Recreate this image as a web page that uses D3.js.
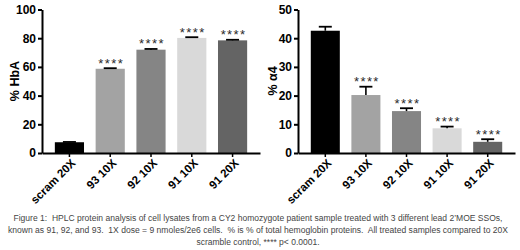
<!DOCTYPE html>
<html>
<head>
<meta charset="utf-8">
<script src="https://cdn.jsdelivr.net/npm/d3@7"></script>
<style>
  body { margin: 0; background: #fff; }
  svg text { font-family: "Liberation Sans", Arial, sans-serif; }
  .caption { white-space: pre; }
</style>
</head>
<body>
<div id="chart-area"></div>
<script>
// samples, shared by both panels
var samples = ["scram 20X", "93 10X", "92 10X", "91 10X", "91 20X"]
var barColors = ["#000000", "#a3a3a3", "#858585", "#d9d9d9", "#646464"]

// left panel: % HbA
var hbaValues = [7.5, 58.7, 72.0, 80.2, 78.5]
var hbaErrors = [0.2, 0.4, 0.5, 0.5, 0.4]
var hbaStars = ["", "****", "****", "****", "****"]
var hbaTicks = [0, 20, 40, 60, 80, 100]

// right panel: % alpha4
var a4Values = [42.6, 20.2, 14.6, 8.6, 3.9]
var a4Errors = [1.4, 2.9, 1.0, 0.6, 0.9]
var a4Stars = ["", "****", "****", "****", "****"]
var a4Ticks = [0, 10, 20, 30, 40, 50]

var captionLines = [
  "Figure 1:  HPLC protein analysis of cell lysates from a CY2 homozygote patient sample treated with 3 different lead 2\u2019MOE SSOs,",
  "known as 91, 92, and 93.  1X dose = 9 nmoles/2e6 cells.  % is % of total hemoglobin proteins.  All treated samples compared to 20X",
  "scramble control, **** p< 0.0001."
]
var captionWidths = [489, 500, null]

var svg = d3.select("#chart-area").append("svg")
    .attr("width", 520)
    .attr("height", 250)

function drawPanel(opts) {
  var x = d3.scaleBand()
    .domain(samples)
    .range([opts.left, opts.right])
    .paddingInner(0.285)
    .paddingOuter(0.315)

  var y = d3.scaleLinear()
    .domain([0, opts.max])
    .range([153, 9.5])

  var g = svg.append("g")

  // bars
  g.selectAll("rect.bar")
    .data(opts.values)
    .enter().append("rect")
      .attr("class", "bar")
      .attr("x", function(d, i) { return x(samples[i]) })
      .attr("y", function(d) { return y(d) })
      .attr("width", x.bandwidth())
      .attr("height", function(d) { return y(0) - y(d) })
      .attr("fill", function(d, i) { return barColors[i] })

  // error bars (upper only)
  var err = g.selectAll("g.err")
    .data(opts.values)
    .enter().append("g")
      .attr("class", "err")

  err.append("line")
    .attr("x1", function(d, i) { return x(samples[i]) + x.bandwidth() / 2 })
    .attr("x2", function(d, i) { return x(samples[i]) + x.bandwidth() / 2 })
    .attr("y1", function(d) { return y(d) })
    .attr("y2", function(d, i) { return y(d + opts.errors[i]) })
    .attr("stroke", "#000")
    .attr("stroke-width", 1.6)

  err.append("line")
    .attr("x1", function(d, i) { return x(samples[i]) + x.bandwidth() / 2 - 6.5 })
    .attr("x2", function(d, i) { return x(samples[i]) + x.bandwidth() / 2 + 6.5 })
    .attr("y1", function(d, i) { return y(d + opts.errors[i]) })
    .attr("y2", function(d, i) { return y(d + opts.errors[i]) })
    .attr("stroke", "#000")
    .attr("stroke-width", 1.8)

  // significance stars
  g.selectAll("text.stars")
    .data(opts.values)
    .enter().append("text")
      .attr("class", "stars")
      .attr("x", function(d, i) { return x(samples[i]) + x.bandwidth() / 2 + 1 })
      .attr("y", function(d, i) { return y(d + opts.errors[i]) - 0.5 })
      .attr("text-anchor", "middle")
      .attr("font-size", "13px")
      .attr("letter-spacing", "1.4px")
      .attr("fill", "#2a2a2a")
      .text(function(d, i) { return opts.stars[i] })

  // y axis
  var yAxisCall = d3.axisLeft(y)
    .tickValues(opts.ticks)
    .tickSize(4)
    .tickPadding(2)
    .tickSizeOuter(0)

  var yAxis = g.append("g")
    .attr("transform", "translate(" + opts.left + ",0)")
    .call(yAxisCall)
  yAxis.select(".domain").attr("stroke-width", 2)
  yAxis.selectAll(".tick line").attr("stroke-width", 2)
  yAxis.selectAll("text")
    .attr("font-size", "12px")
    .attr("font-weight", "bold")
    .attr("font-family", "Liberation Sans, Arial, sans-serif")
    .attr("fill", "#000")

  // x axis
  var xAxisCall = d3.axisBottom(x)
    .tickSize(4)
    .tickSizeOuter(0)

  var xAxis = g.append("g")
    .attr("transform", "translate(0," + y(0) + ")")
    .call(xAxisCall)
  xAxis.select(".domain").attr("stroke-width", 2)
  xAxis.selectAll(".tick line").attr("stroke-width", 1.5)
  xAxis.selectAll("text")
    .attr("font-size", "11.5px")
    .attr("font-weight", "bold")
    .attr("font-family", "Liberation Sans, Arial, sans-serif")
    .attr("fill", "#000")
    .attr("text-anchor", "end")
    .attr("x", 0)
    .attr("y", 0)
    .attr("dy", "0.35em")
    .attr("transform", "translate(4,8) rotate(-45)")

  // y axis label
  g.append("text")
    .attr("transform", "translate(" + opts.labelX + ",81) rotate(-90)")
    .attr("text-anchor", "middle")
    .attr("dy", "0.35em")
    .attr("font-size", "12.5px")
    .attr("font-weight", "bold")
    .text(opts.label)
}

drawPanel({ left: 42, right: 260, max: 100, values: hbaValues, errors: hbaErrors,
  stars: hbaStars, ticks: hbaTicks, label: "% HbA", labelX: 15 })
drawPanel({ left: 298, right: 515, max: 50, values: a4Values, errors: a4Errors,
  stars: a4Stars, ticks: a4Ticks, label: "% \u03b14", labelX: 273 })

// caption
svg.append("g").selectAll("text")
  .data(captionLines)
  .enter().append("text")
    .attr("class", "caption")
    .attr("x", 258)
    .attr("y", function(d, i) { return 220.5 + i * 12 })
    .attr("text-anchor", "middle")
    .attr("font-size", "8.5px")
    .attr("fill", "#444")
    .each(function(d, i) {
      if (captionWidths[i]) {
        d3.select(this)
          .attr("textLength", captionWidths[i])
          .attr("lengthAdjust", "spacingAndGlyphs")
      }
    })
    .text(function(d) { return d })
</script>
</body>
</html>
